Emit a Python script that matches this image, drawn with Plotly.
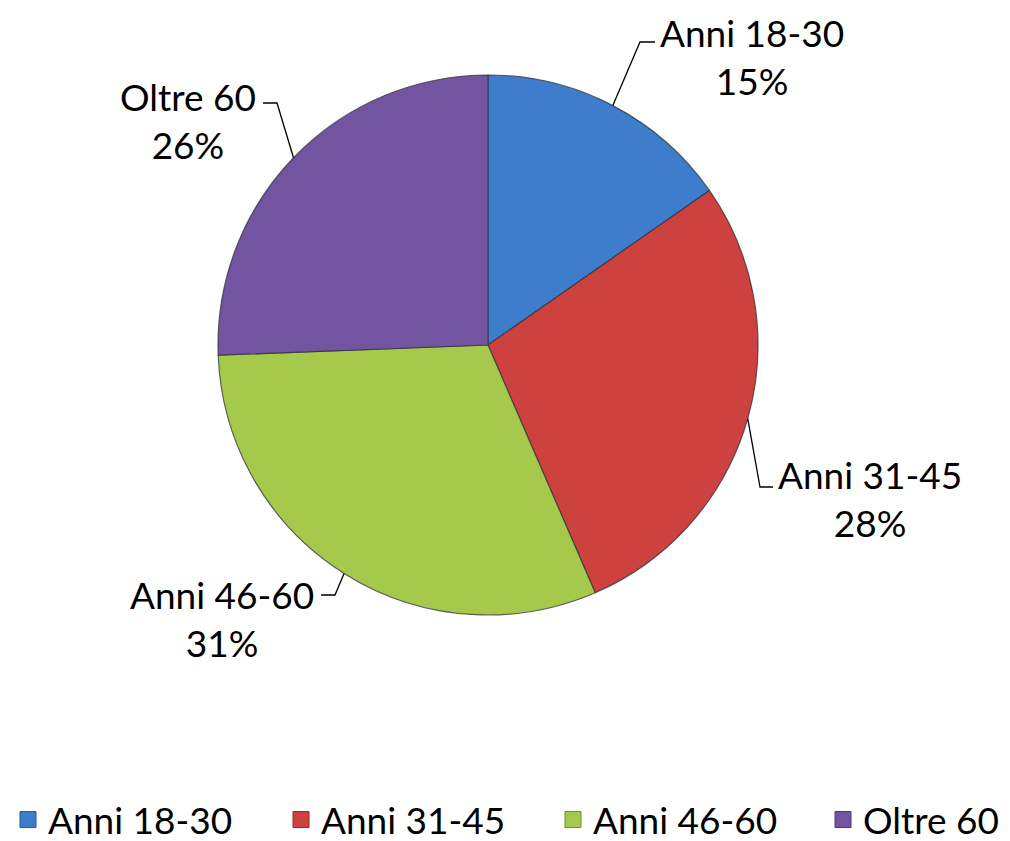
import math
import plotly.graph_objects as go

# ---- data ----
categories = ["Anni 18-30", "Anni 31-45", "Anni 46-60", "Oltre 60"]
values = [15.3, 28.2, 30.9, 25.6]
colors = ["#3d7dcb", "#cd413e", "#a5ca4b", "#7254a0"]
edge_colors = ["#2a5a96", "#8f2c2a", "#6f8c2f", "#4e3a70"]

# ---- layout constants (pixels) ----
W, H = 1010, 841
CX, CY, R = 488, 345, 270
FONT = "Lato, Open Sans, sans-serif"
# label centres and kink offsets (layout positions only)
label_pos = [(752, 56), (870, 498), (222, 618), (188, 120)]
kinks = [((640, 42), (655, 42)), ((760, 487), (773, 487)),
         ((335, 595), (321, 595)), ((277, 103), (263, 103))]
legend_left = [8, 281, 553, 823]
LEGEND_Y = 820


def px(x):
    return x / W


def py(y):
    return 1 - y / H


fig = go.Figure()
fig.add_trace(go.Pie(
    labels=categories, values=values, sort=False, direction="clockwise",
    rotation=0, showlegend=False,
    marker=dict(colors=colors, line=dict(color="rgba(50,50,60,0.75)", width=1.2)),
    textinfo="none", hoverinfo="label+percent",
    domain=dict(x=[px(CX - R), px(CX + R)], y=[py(CY + R), py(CY - R)]),
))

# legend entries, one legend per category so each can sit at its own place
legend_layouts = {}
for i, cat in enumerate(categories):
    lname = "legend" if i == 0 else f"legend{i + 1}"
    fig.add_trace(go.Scatter(
        x=[None], y=[None], mode="markers", name=cat, legend=lname,
        showlegend=True, hoverinfo="skip",
        marker=dict(symbol="square", size=16, color=colors[i],
                    line=dict(color=edge_colors[i], width=1)),
    ))
    legend_layouts[lname] = dict(
        orientation="h", x=px(legend_left[i]), xanchor="left",
        y=py(LEGEND_Y), yanchor="middle", bgcolor="rgba(0,0,0,0)",
        font=dict(family=FONT, size=37, color="black"),
        itemclick=False, itemdoubleclick=False, itemsizing="trace",
    )

total = sum(values)
cum = 0
shapes = []
annotations = []
for i, (cat, v) in enumerate(zip(categories, values)):
    mid = (cum + v / 2) / total * 2 * math.pi
    cum += v
    sx = CX + R * math.sin(mid)
    sy = CY - R * math.cos(mid)
    (k1x, k1y), (k2x, k2y) = kinks[i]
    path = f"M {px(sx)},{py(sy)} L {px(k1x)},{py(k1y)} L {px(k2x)},{py(k2y)}"
    shapes.append(dict(type="path", xref="paper", yref="paper", path=path,
                       line=dict(color="black", width=1.3)))
    pct = round(v / total * 100)
    lx, ly = label_pos[i]
    annotations.append(dict(x=px(lx), y=py(ly), xref="paper", yref="paper",
                            text=f"{cat}<br>{pct}%", showarrow=False,
                            xanchor="center", yanchor="middle", align="center",
                            font=dict(family=FONT, size=37, color="black")))

fig.update_layout(
    width=W, height=H,
    margin=dict(l=0, r=0, t=0, b=0, autoexpand=False),
    paper_bgcolor="white", plot_bgcolor="white",
    shapes=shapes, annotations=annotations,
    showlegend=True,
    xaxis=dict(visible=False), yaxis=dict(visible=False),
    **legend_layouts,
)

fig.write_html("out.html", config={"displayModeBar": False},
               post_script="document.body.style.margin='0';")
